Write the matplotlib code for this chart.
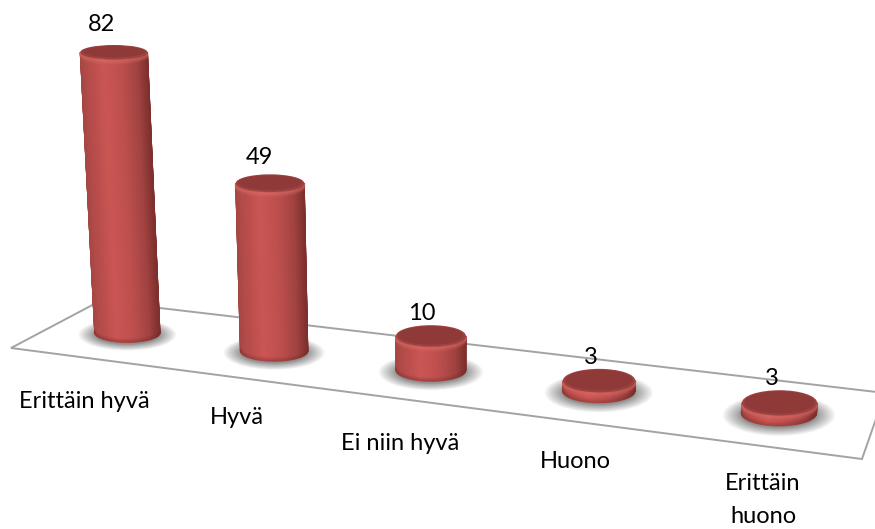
import numpy as np
import matplotlib
matplotlib.use("Agg")
import matplotlib.pyplot as plt
from matplotlib.colors import LinearSegmentedColormap
from matplotlib.patches import Ellipse, Polygon

categories = ["Erittäin hyvä", "Hyvä", "Ei niin hyvä", "Huono", "Erittäin\nhuono"]
values = [82, 49, 10, 3, 3]

# label centres in pixels, the chart has them scattered by hand
cat_label_x = [84, 237, 400, 575, 763]
cat_label_y = [401, 417, 443, 461, 500]

plt.rcParams["font.family"] = ["Lato", "DejaVu Sans"]

# floor corners in pixels: front left, back left, back right, front right
floor = np.array([[11, 348], [100, 301], [885, 393], [862, 459]], dtype=float)
floor_src = np.array([[0, 0], [0, 1], [5, 1], [5, 0]], dtype=float)

px_per_value = 3.42
vanish_x = 432
skew = 0.00054

body_cmap = LinearSegmentedColormap.from_list(
    "body",
    [(0.0, "#a64745"), (0.08, "#b24b49"), (0.35, "#cb5654"), (0.62, "#bc4f4d"),
     (0.85, "#a04341"), (1.0, "#7f302e")],
)


def homography(src, dst):
    rows = []
    for (x, y), (u, v) in zip(src, dst):
        rows.append([x, y, 1, 0, 0, 0, -u * x, -u * y])
        rows.append([0, 0, 0, x, y, 1, -v * x, -v * y])
    h = np.linalg.solve(np.array(rows), dst.flatten())
    return np.append(h, 1).reshape(3, 3)


H = homography(floor_src, floor)


def project(cat, depth):
    p = H @ np.array([cat, depth, 1.0])
    return p[:2] / p[2]


def ellipse_pts(cx, cy, rx, ry, t):
    return cx + rx * np.cos(t), cy + ry * np.sin(t)


fig = plt.figure(figsize=(8.75, 5.29), dpi=100)
ax = fig.add_axes([0, 0, 1, 1])
ax.set_xlim(0, 875)
ax.set_ylim(529, 0)
ax.axis("off")

ax.add_patch(Polygon(floor, closed=True, facecolor="white", edgecolor="#a3a3a3",
                     linewidth=1.4, zorder=1))

for i, val in enumerate(values):
    bx, by = project(i + 0.5, 0.5)
    by += 0.5
    rx = (project(i + 0.72, 0.5)[0] - project(i + 0.28, 0.5)[0]) / 4 + 17
    ry = (project(i + 0.5, 0.3)[1] - project(i + 0.5, 0.7)[1]) / 2
    rx_top = rx + val * 0.012
    ry_top = ry - val * 0.03
    tx = bx + (bx - vanish_x) * skew * val
    ty = by - val * px_per_value

    # soft shadow on the floor
    for k in np.linspace(1, 0, 24) ** 1.4:
        ax.add_patch(Ellipse((bx, by + 2), 2 * rx * (1 + 0.5 * k), 2 * ry * (1 + 0.65 * k),
                             facecolor="#5a5a5a", edgecolor="none", alpha=0.04, zorder=2))

    # side of the cylinder, front half only
    t = np.linspace(np.pi, 0, 61)
    bot_x, bot_y = ellipse_pts(bx, by, rx, ry, t)
    top_x, top_y = ellipse_pts(tx, ty, rx_top, ry_top, t)
    mesh_x = np.vstack([bot_x, top_x])
    mesh_y = np.vstack([bot_y, top_y])
    shade = np.vstack([(np.cos(t) + 1) / 2] * 2)
    ax.pcolormesh(mesh_x, mesh_y, shade, shading="gouraud", cmap=body_cmap,
                  vmin=0, vmax=1, zorder=3)

    # darker foot of the cylinder
    for n in range(4):
        xs, ys = ellipse_pts(bx, by - n, rx, ry, t)
        ax.plot(xs, ys, color="#7a2e2c", alpha=0.3 - n * 0.07, lw=1.2, zorder=4)

    # bevel glow below the lid
    for n in range(5, 0, -1):
        xs, ys = ellipse_pts(tx, ty + n, rx_top, ry_top, t)
        ax.plot(xs, ys, color="#e07068", alpha=0.45 - n * 0.08, lw=1.4, zorder=4)

    # lid
    ax.add_patch(Ellipse((tx, ty), 2 * rx_top, 2 * ry_top, facecolor="#9c4240",
                         edgecolor="none", zorder=5))
    ax.add_patch(Ellipse((tx, ty - 0.5), 2 * rx_top - 5, 2 * ry_top - 3, facecolor="#8f3a38",
                         edgecolor="none", zorder=5))

    # value sits above the lid, closer to it on the short bars
    ax.text(tx - 12 + i * 1.2, ty - ry_top - (11 + val * 0.11), str(val), fontsize=17,
            color="black", ha="center", va="center", zorder=6)
    ax.text(cat_label_x[i], cat_label_y[i], categories[i], fontsize=17, color="black",
            ha="center", va="center", linespacing=1.65, zorder=6)

fig.savefig("out.png", dpi=100)
